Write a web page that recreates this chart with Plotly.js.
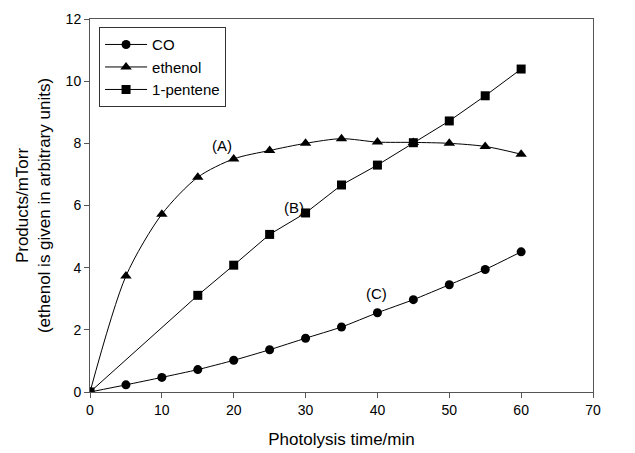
<!DOCTYPE html>
<html><head><meta charset="utf-8">
<script src="https://cdn.plot.ly/plotly-3.0.1.min.js"></script>
<style>html,body{margin:0;padding:0;background:#fff}</style>
</head><body><div id="chart" style="width:635px;height:453px"></div>
<script>
const time = [0,5,10,15,20,25,30,35,40,45,50,55,60];
const coValues = [0,0.23,0.47,0.72,1.02,1.36,1.73,2.09,2.55,2.97,3.45,3.94,4.51];
const ethenolValues = [0,3.73,5.72,6.91,7.5,7.77,8.0,8.15,8.04,8.03,8.0,7.9,7.65];
const penteneTime = [0,15,20,25,30,35,40,45,50,55,60];
const penteneValues = [0,3.11,4.08,5.07,5.76,6.66,7.3,8.02,8.72,9.53,10.39];
const xTicks = [0,10,20,30,40,50,60,70];
const yTicks = [0,2,4,6,8,10,12];
const labels = ['(A)','(B)','(C)'];
const labelX = [18.4,28.4,39.9];
const labelY = [7.94,5.92,3.18];

const line = {color:'#000', width:1};
const traces = [
  {x:time, y:coValues, name:'CO', mode:'lines+markers', line:Object.assign({shape:'spline', smoothing:0.5}, line),
   marker:{symbol:'circle', size:9, color:'#000'}},
  {x:time, y:ethenolValues, name:'ethenol', mode:'lines+markers', line:Object.assign({shape:'spline', smoothing:0.8}, line),
   marker:{symbol:'triangle-up', size:10, color:'#000'}},
  {x:penteneTime, y:penteneValues, name:'1-pentene', mode:'lines+markers', line:Object.assign({shape:'linear'}, line),
   marker:{symbol:'square', size:9, color:'#000'}}
];
const axisCommon = {showline:true, linecolor:'#555', linewidth:1, mirror:true, ticks:'outside', ticklen:5, tickcolor:'#555',
  showgrid:false, zeroline:false, tickfont:{family:'Liberation Sans, Arial', size:14, color:'#000'}};
const layout = {
  width:635, height:453, margin:{l:90, r:42, t:19, b:61},
  paper_bgcolor:'#fff', plot_bgcolor:'#fff',
  font:{family:'Liberation Sans, Arial', color:'#000'},
  xaxis:Object.assign({}, axisCommon, {range:[0,70], tickvals:xTicks, ticktext:xTicks.map(String),
    title:{text:'Photolysis time/min', font:{size:17}, standoff:16}}),
  yaxis:Object.assign({}, axisCommon, {range:[0,12], tickvals:yTicks, ticktext:yTicks.map(String),
    title:{text:'Products/mTorr<br>(ethenol is given in arbitrary units)', font:{size:17}, standoff:10}}),
  showlegend:true,
  legend:{x:0.018, y:0.978, xanchor:'left', yanchor:'top', bordercolor:'#333', borderwidth:1, bgcolor:'#fff',
    font:{size:15}, tracegroupgap:0, itemwidth:42},
  annotations: labels.map((t,i)=>({x:labelX[i], y:labelY[i], text:t, showarrow:false, font:{size:15}}))
};
Plotly.newPlot('chart', traces, layout, {displayModeBar:false, staticPlot:true});
</script></body></html>
